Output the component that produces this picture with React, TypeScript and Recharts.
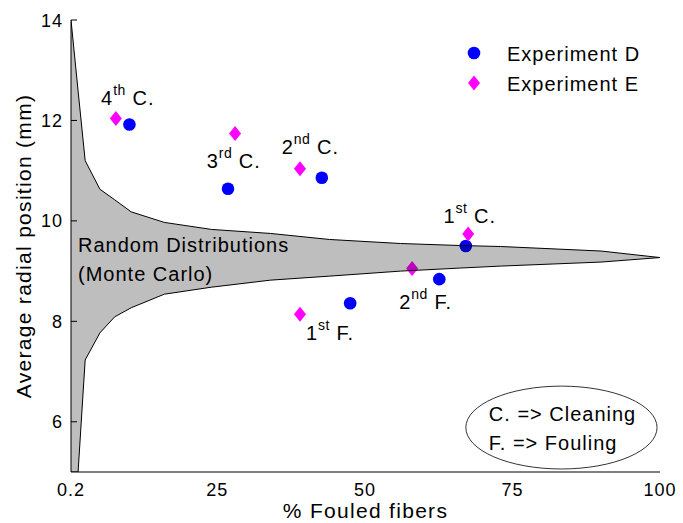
import React from "react";
import {
  ComposedChart,
  Area,
  Scatter,
  XAxis,
  YAxis,
  Legend,
  ReferenceArea,
} from "recharts";

const FONT = "'Liberation Sans', Arial, Helvetica, sans-serif";

// Monte Carlo envelope (random distributions)
const funnelX = [0.2, 1.4, 2.6, 5.1, 7.6, 10.4, 16, 24, 34, 44, 56, 66, 73, 90, 100];
const funnelLow = [5, 5, 7.23, 7.77, 8.09, 8.27, 8.54, 8.68, 8.82, 8.9, 9.0, 9.06, 9.1, 9.18, 9.27];
const funnelHigh = [14, 12.59, 11.2, 10.63, 10.42, 10.18, 9.97, 9.83, 9.75, 9.63, 9.55, 9.51, 9.49, 9.4, 9.27];

// experiments: 4th C., 3rd C., 2nd C., 1st C., 2nd F., 1st F.
const expDX = [10.1, 26.8, 42.7, 67.1, 62.6, 47.5];
const expDY = [11.92, 10.64, 10.86, 9.5, 8.84, 8.36];
const expEX = [7.8, 28.0, 39.0, 67.5, 58.0, 39.0];
const expEY = [12.04, 11.74, 11.04, 9.74, 9.05, 8.14];

// point labels
const noteX = [5.3, 23.2, 35.9, 63.3, 55.8, 40.0];
const noteY = [12.3, 11.06, 11.34, 9.95, 8.24, 7.62];
const noteNum = ["4", "3", "2", "1", "2", "1"];
const noteSup = ["th", "rd", "nd", "st", "nd", "st"];
const noteTail = [" C.", " C.", " C.", " C.", " F.", " F."];

const regionNote = ["Random Distributions", "(Monte Carlo)"];
const regionNoteAt = { x: 1.39, y: 9.38 };

const keyLines = ["C. => Cleaning", "F. => Fouling"];
const keyBox = { x1: 67.1, x2: 99.5, y1: 5.06, y2: 6.71 };

const xTicks = [0.2, 25, 50, 75, 100];
const yTicks = [6, 8, 10, 12, 14];

const funnel = funnelX.map((x, i) => ({ x, range: [funnelLow[i], funnelHigh[i]] }));
const expD = expDX.map((x, i) => ({ x, y: expDY[i] }));
const expE = expEX.map((x, i) => ({ x, y: expEY[i] }));
const notes = noteX.map((x, i) => ({
  x,
  y: noteY[i],
  num: noteNum[i],
  sup: noteSup[i],
  tail: noteTail[i],
}));

const textStyle = { fontFamily: FONT, fontSize: 20, letterSpacing: 1, fill: "#000" };

function Dot(p: any) {
  return <circle cx={p.cx} cy={p.cy} r={6.3} fill="#0000ff" />;
}

function Diamond(p: any) {
  const { cx, cy } = p;
  return (
    <polygon
      points={`${cx},${cy - 7.5} ${cx + 6},${cy} ${cx},${cy + 7.5} ${cx - 6},${cy}`}
      fill="#ff00ff"
    />
  );
}

function NoteText(p: any) {
  const d = p.payload;
  return (
    <text x={p.cx} y={p.cy} style={textStyle}>
      {d.num}
      <tspan dy={-10} style={{ fontSize: 14, letterSpacing: 0.5 }}>
        {d.sup}
      </tspan>
      <tspan dy={10}>{d.tail}</tspan>
    </text>
  );
}

function RegionText(p: any) {
  return (
    <text x={p.cx} y={p.cy} style={textStyle}>
      {regionNote.map((t, i) => (
        <tspan key={i} x={p.cx} dy={i === 0 ? 0 : 28.5}>
          {t}
        </tspan>
      ))}
    </text>
  );
}

function KeyNote(p: any) {
  const { x, y, width, height } = p;
  return (
    <g>
      <ellipse
        cx={x + width / 2}
        cy={y + height / 2}
        rx={width / 2}
        ry={height / 2}
        fill="none"
        stroke="#000"
        strokeWidth={0.8}
      />
      {keyLines.map((t, i) => (
        <text key={i} x={x + 23} y={y + 35 + i * 29} style={textStyle}>
          {t}
        </text>
      ))}
    </g>
  );
}

function YTick({ x, y, payload }: any) {
  return (
    <g>
      <line x1={x} x2={x + 6} y1={y} y2={y} stroke="#000" />
      <text
        x={x - 8}
        y={y}
        dy={6.5}
        textAnchor="end"
        style={{ fontFamily: FONT, fontSize: 18, letterSpacing: 1, fill: "#000" }}
      >
        {payload.value}
      </text>
    </g>
  );
}

// inward tick marks on the right frame edge
function RTick({ x, y }: any) {
  return <line x1={x - 6} x2={x} y1={y} y2={y} stroke="#000" />;
}

function XTick({ x, y, payload }: any) {
  return (
    <text
      x={x}
      y={y}
      dy={24}
      textAnchor="middle"
      style={{ fontFamily: FONT, fontSize: 18, letterSpacing: 1, fill: "#000" }}
    >
      {payload.value}
    </text>
  );
}

function XTitle({ viewBox }: any) {
  return (
    <text
      x={viewBox.x + viewBox.width / 2}
      y={viewBox.y + 46}
      textAnchor="middle"
      style={{ fontFamily: FONT, fontSize: 21, letterSpacing: 1.3, fill: "#000" }}
    >
      % Fouled fibers
    </text>
  );
}

function YTitle({ viewBox }: any) {
  const cx = 31;
  const cy = viewBox.y + viewBox.height / 2;
  return (
    <text
      x={cx}
      y={cy}
      textAnchor="middle"
      transform={`rotate(-90 ${cx} ${cy})`}
      style={{ fontFamily: FONT, fontSize: 21, letterSpacing: 1.3, fill: "#000" }}
    >
      Average radial position (mm)
    </text>
  );
}

function LegendBox({ payload }: any) {
  const items = (payload || []).filter((e: any) => e.type !== "none");
  return (
    <svg width={210} height={64} style={{ display: "block" }}>
      {items.map((e: any, i: number) => {
        const cy = 17 + i * 30;
        return (
          <g key={i}>
            {i === 0 ? <Dot cx={12} cy={cy} /> : <Diamond cx={12} cy={cy} />}
            <text x={45} y={cy + 7.5} style={textStyle}>
              {e.value}
            </text>
          </g>
        );
      })}
    </svg>
  );
}

export default function App() {
  return (
    <div style={{ position: "absolute", left: 0, top: 0, background: "#fff" }}>
      <ComposedChart
        width={683}
        height={523}
        data={funnel}
        margin={{ top: 20, right: 23, left: 0, bottom: 0 }}
      >
        <XAxis
          dataKey="x"
          type="number"
          domain={[0.2, 100]}
          ticks={xTicks}
          allowDataOverflow
          height={51}
          tickLine={false}
          tickSize={0}
          tickMargin={0}
          tick={<XTick />}
          axisLine={{ stroke: "#000" }}
          label={<XTitle />}
        />
        <XAxis
          xAxisId="top"
          orientation="top"
          dataKey="x"
          type="number"
          domain={[0.2, 100]}
          allowDataOverflow
          height={0}
          tick={false}
          tickLine={false}
          axisLine={{ stroke: "#000" }}
        />
        <YAxis
          dataKey="y"
          type="number"
          domain={[5, 14]}
          ticks={yTicks}
          allowDataOverflow
          width={71}
          tickLine={false}
          tickSize={0}
          tickMargin={0}
          tick={<YTick />}
          axisLine={{ stroke: "#000" }}
          label={<YTitle />}
        />
        <YAxis
          yAxisId="right"
          orientation="right"
          mirror
          dataKey="y"
          type="number"
          domain={[5, 14]}
          ticks={yTicks}
          allowDataOverflow
          width={0}
          tickLine={false}
          tickSize={0}
          tickMargin={0}
          tick={<RTick />}
          axisLine={{ stroke: "#000" }}
        />
        <Legend
          layout="horizontal"
          verticalAlign="middle"
          align="center"
          wrapperStyle={{ top: 36, left: 462, width: 210, height: 64 }}
          content={<LegendBox />}
        />
        <Scatter
          name="Experiment D"
          data={expD}
          shape={<Dot />}
          isAnimationActive={false}
        />
        <Scatter
          name="Experiment E"
          data={expE}
          shape={<Diamond />}
          isAnimationActive={false}
        />
        <Area
          dataKey="range"
          type="linear"
          stroke="#000"
          strokeWidth={1}
          fill="#000"
          fillOpacity={0.255}
          legendType="none"
          isAnimationActive={false}
          zIndex={650}
        />
        <Scatter
          data={notes}
          shape={<NoteText />}
          legendType="none"
          isAnimationActive={false}
          zIndex={700}
        />
        <Scatter
          data={[regionNoteAt]}
          shape={<RegionText />}
          legendType="none"
          isAnimationActive={false}
          zIndex={700}
        />
        <ReferenceArea
          x1={keyBox.x1}
          x2={keyBox.x2}
          y1={keyBox.y1}
          y2={keyBox.y2}
          shape={<KeyNote />}
        />
      </ComposedChart>
    </div>
  );
}
